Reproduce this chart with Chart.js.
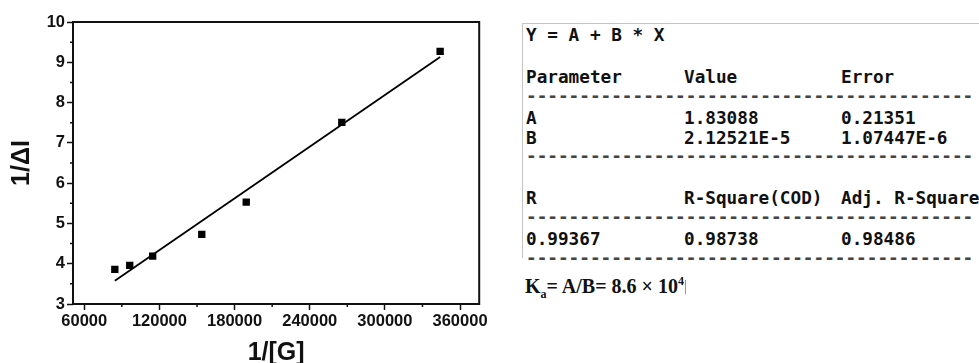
<!DOCTYPE html>
<html>
<head>
<meta charset="utf-8">
<script src="https://cdn.jsdelivr.net/npm/chart.js@4/dist/chart.umd.min.js"></script>
<style>
  html, body { margin: 0; padding: 0; background: #fff; }
  #wrap { position: relative; width: 979px; height: 363px; overflow: hidden; }
  #plot { position: absolute; left: 0; top: 0; width: 490px; height: 363px; }
  #fit { position: absolute; left: 522px; top: 23px; width: 457px; height: 234px;
         border-left: 1px solid #c4c4c4; border-top: 1px solid #c4c4c4; }
  .row { position: absolute; left: 3px; white-space: pre; height: 18px; line-height: 18px;
         font-family: "DejaVu Sans Mono", "Liberation Mono", monospace; font-weight: bold;
         font-size: 17.7px; color: #111; }
  .row span { position: absolute; top: 0; }
  .dash { color: #444; }
  #ka { position: absolute; left: 525px; top: 274px; font-family: "Liberation Serif", "Times New Roman", serif;
        font-weight: bold; font-size: 20px; color: #111; }
  #ka sub, #ka sup { font-size: 12px; }
  #ka .cur { display: inline-block; width: 1px; height: 14px; background: #999; margin-left: 1px; vertical-align: -1px; }
</style>
</head>
<body>
<div id="wrap">
  <div id="plot"><canvas id="chart" width="490" height="363"></canvas></div>
  <div id="fit"></div>
  <div id="ka"></div>
</div>
<script>
// measured points
const xValues = [84400, 96300, 114600, 153800, 189300, 265600, 344100];
const yValues = [3.86, 3.96, 4.19, 4.73, 5.53, 7.51, 9.27];
// fitted line end points
const fitX = [84400, 344100];
const fitY = [3.58, 9.13];
const xTicks = [60000, 120000, 180000, 240000, 300000, 360000];
const yTicks = [3, 4, 5, 6, 7, 8, 9, 10];

// fit report
const fitEquation = "Y = A + B * X";
const paramHeader = ["Parameter", "Value", "Error"];
const paramNames = ["A", "B"];
const paramValues = ["1.83088", "2.12521E-5"];
const paramErrors = ["0.21351", "1.07447E-6"];
const statHeader = ["R", "R-Square(COD)", "Adj. R-Square"];
const statValues = ["0.99367", "0.98738", "0.98486"];

const colX = [0, 158, 315];

const fitBox = document.getElementById("fit");
function addRow(cells, centerY) {
  const row = document.createElement("div");
  row.className = "row";
  row.style.top = (centerY - 23 - 9) + "px";
  cells.forEach((c, i) => {
    const s = document.createElement("span");
    s.textContent = c;
    s.style.left = colX[i] + "px";
    row.appendChild(s);
  });
  fitBox.appendChild(row);
}
function addDash(centerY) {
  const row = document.createElement("div");
  row.className = "row dash";
  row.style.top = (centerY - 23 - 9) + "px";
  row.textContent = "-".repeat(42);
  fitBox.appendChild(row);
}
addRow([fitEquation], 34);
addRow(paramHeader, 76);
addDash(95);
paramNames.forEach((n, i) => addRow([n, paramValues[i], paramErrors[i]], 117 + i * 20));
addDash(155);
addRow(statHeader, 197);
addDash(216);
addRow(statValues, 238);
addDash(257);

document.getElementById("ka").innerHTML = 'K<sub>a</sub>= A/B= 8.6 × 10<sup>4</sup><span class="cur"></span>';

// frame and minor ticks
const framePlugin = {
  id: "frame",
  afterDraw(chart) {
    const { ctx, chartArea: a, scales } = chart;
    ctx.save();
    ctx.strokeStyle = "#111";
    ctx.lineWidth = 2;
    ctx.strokeRect(a.left, a.top, a.right - a.left, a.bottom - a.top);
    ctx.lineWidth = 1.5;
    ctx.beginPath();
    for (let v = 3.5; v < 10; v += 1) {
      const y = scales.y.getPixelForValue(v);
      ctx.moveTo(a.left, y); ctx.lineTo(a.left - 3, y);
    }
    for (let v = 90000; v < 375000; v += 60000) {
      const x = scales.x.getPixelForValue(v);
      ctx.moveTo(x, a.bottom); ctx.lineTo(x, a.bottom + 3);
    }
    ctx.stroke();
    ctx.restore();
  }
};

const tickFont = { family: "Liberation Sans, Arial, sans-serif", size: 16.5, weight: "bold" };
const titleFont = { family: "Liberation Sans, Arial, sans-serif", size: 25, weight: "bold", lineHeight: 1 };

new Chart(document.getElementById("chart"), {
  type: "scatter",
  data: {
    datasets: [
      {
        label: "data",
        data: xValues.map((x, i) => ({ x: x, y: yValues[i] })),
        pointStyle: "rect",
        pointRadius: 5.2,
        backgroundColor: "#000",
        borderColor: "#000",
        borderWidth: 0,
        showLine: false,
      },
      {
        label: "fit",
        data: fitX.map((x, i) => ({ x: x, y: fitY[i] })),
        showLine: true,
        pointRadius: 0,
        borderColor: "#000",
        borderWidth: 1.8,
      },
    ],
  },
  options: {
    responsive: false,
    animation: false,
    events: [],
    layout: { padding: { top: 22, right: 9, bottom: 0, left: 0 } },
    plugins: { legend: { display: false }, tooltip: { enabled: false } },
    scales: {
      x: {
        type: "linear",
        min: 51000,
        max: 375300,
        afterBuildTicks: (s) => { s.ticks = xTicks.map((v) => ({ value: v })); },
        afterFit: (s) => { s.height = 59; },
        border: { display: false },
        grid: { drawOnChartArea: false, tickLength: 6, tickWidth: 1.5, tickColor: "#111" },
        ticks: { color: "#111", padding: 2, maxRotation: 0, font: tickFont,
                 callback: (v) => String(v) },
        title: { display: true, text: "1/[G]", color: "#111", padding: { top: 0, bottom: -3 }, font: titleFont },
      },
      y: {
        type: "linear",
        min: 3,
        max: 10,
        afterBuildTicks: (s) => { s.ticks = yTicks.map((v) => ({ value: v })); },
        afterFit: (s) => { s.width = 73; },
        border: { display: false },
        grid: { drawOnChartArea: false, tickLength: 6, tickWidth: 1.5, tickColor: "#111" },
        ticks: { color: "#111", padding: 2, font: tickFont, callback: (v) => String(v) },
        title: { display: true, text: "1/ΔI", color: "#111", padding: { top: 10, bottom: 0 }, font: titleFont },
      },
    },
  },
  plugins: [framePlugin],
});
</script>
</body>
</html>
